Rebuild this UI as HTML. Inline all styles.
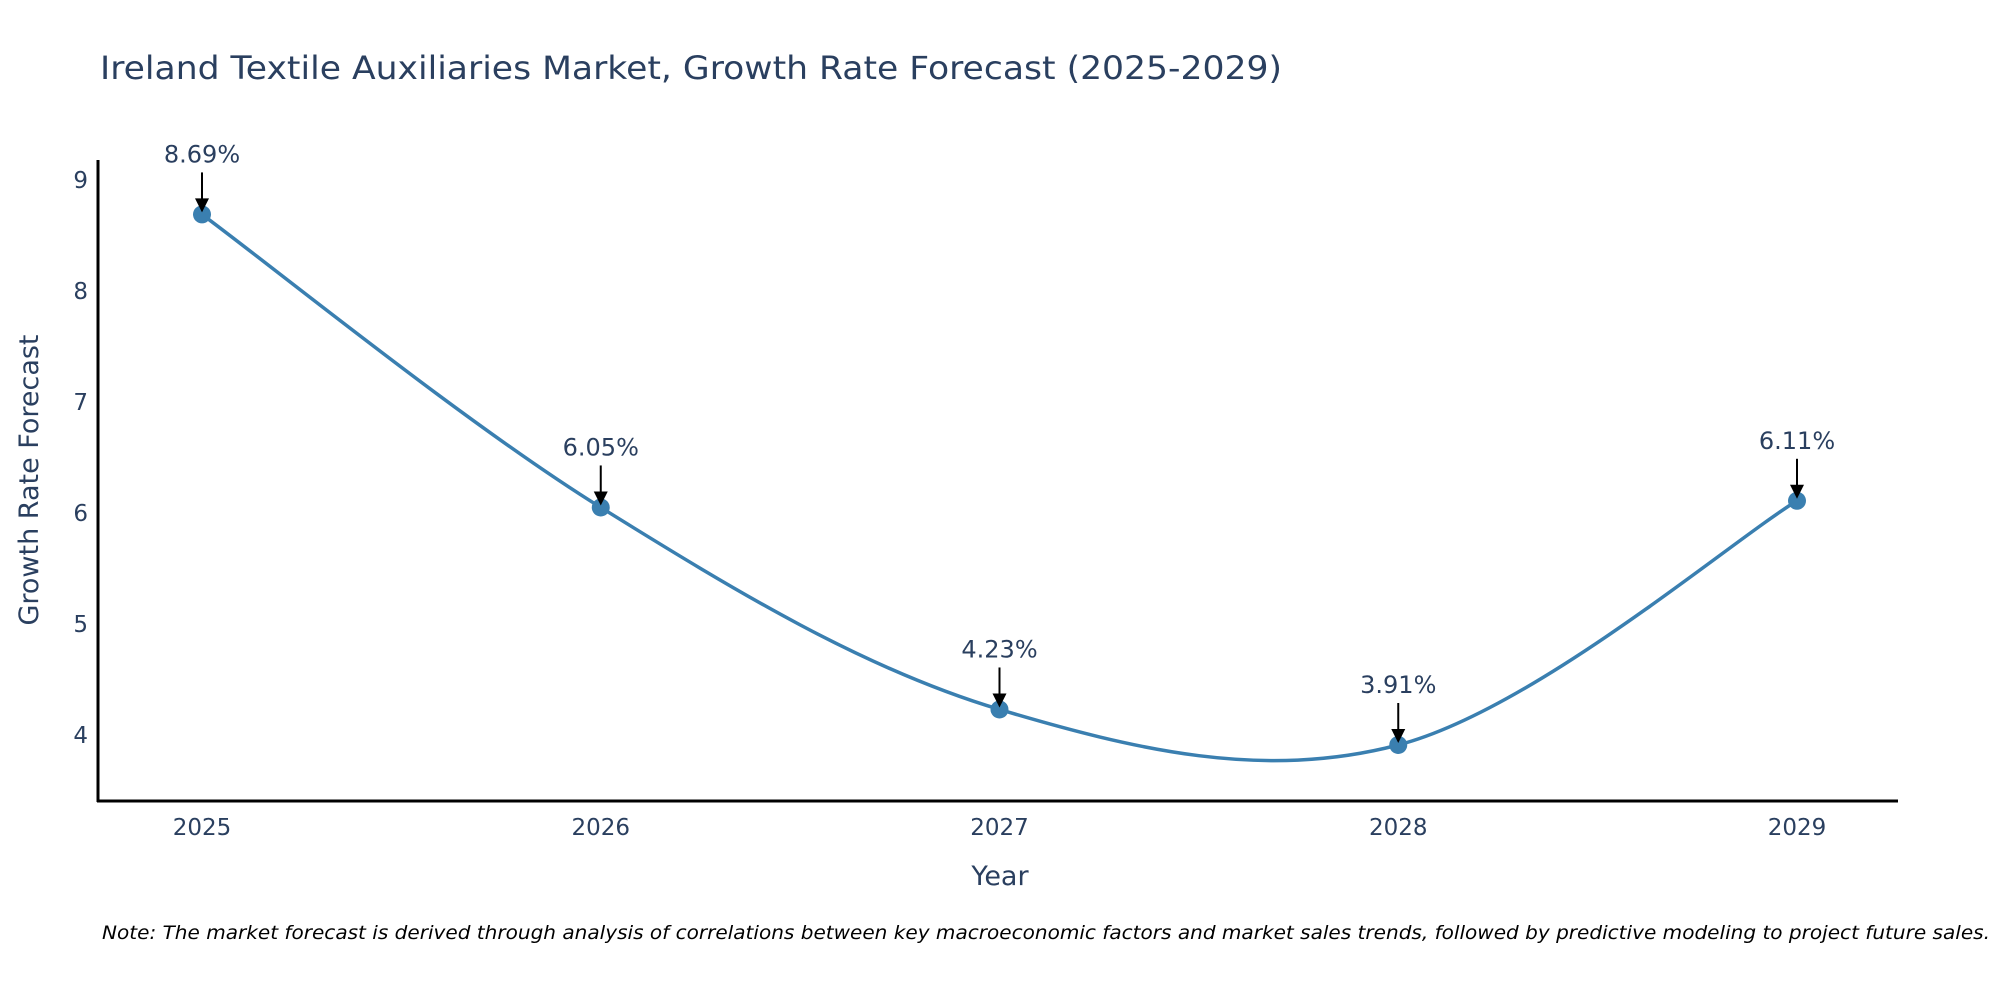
<!DOCTYPE html>
<html><head><meta charset="utf-8"><style>
body{margin:0;background:#fff;}
svg text{font-family:"DejaVu Sans","Liberation Sans",sans-serif;fill:#2a3f5f;}
</style></head><body>
<svg id="chart" width="2000" height="1000">
<text x="100" y="79" font-size="32" textLength="1182" lengthAdjust="spacingAndGlyphs">Ireland Textile Auxiliaries Market, Growth Rate Forecast (2025-2029)</text>
<g id="yticks"></g>
<g id="xticks"></g>
<path id="line" fill="none" stroke="#3a7fb0" stroke-width="3.5"/>
<g id="points"></g>
<g id="annots"></g>
<line x1="98" y1="160" x2="98" y2="802" stroke="#000" stroke-width="3"/>
<line x1="97" y1="801" x2="1898" y2="801" stroke="#000" stroke-width="3"/>
<text x="1000" y="885" font-size="27" text-anchor="middle">Year</text>
<text transform="translate(38,480) rotate(-90)" font-size="27" text-anchor="middle">Growth Rate Forecast</text>
<text x="102" y="939" font-size="19" font-style="italic" textLength="1888" lengthAdjust="spacingAndGlyphs" style="fill:#000">Note: The market forecast is derived through analysis of correlations between key macroeconomic factors and market sales trends, followed by predictive modeling to project future sales.</text>
</svg>
<script>
const years=[2025,2026,2027,2028,2029];
const values=[8.69,6.05,4.23,3.91,6.11];
const labels=["8.69%","6.05%","4.23%","3.91%","6.11%"];
const yTicks=[4,5,6,7,8,9];
const NS="http://www.w3.org/2000/svg";
const xs=y=>202+(y-2025)*(1797-202)/4;
const ys=v=>735-(v-4)*111;
function mk(t,a,p){const e=document.createElementNS(NS,t);for(const k in a)e.setAttribute(k,a[k]);p.appendChild(e);return e;}
const yt=document.getElementById('yticks');
yTicks.forEach(t=>{const e=mk('text',{x:88,y:ys(t)+8,'font-size':23,'text-anchor':'end'},yt);e.textContent=t;

});
const xt=document.getElementById('xticks');
years.forEach(y=>{const e=mk('text',{x:xs(y),y:835,'font-size':23,'text-anchor':'middle'},xt);e.textContent=y;

});
const P=years.map((y,i)=>[xs(y),ys(values[i])]);
let d=`M${P[0][0]},${P[0][1]}`;const s=0.17;
for(let i=0;i<P.length-1;i++){const p0=P[Math.max(i-1,0)],p1=P[i],p2=P[i+1],p3=P[Math.min(i+2,P.length-1)];
const c1=[p1[0]+(p2[0]-p0[0])*s,p1[1]+(p2[1]-p0[1])*s],c2=[p2[0]-(p3[0]-p1[0])*s,p2[1]-(p3[1]-p1[1])*s];
d+=` C${c1[0]},${c1[1]} ${c2[0]},${c2[1]} ${p2[0]},${p2[1]}`;}
document.getElementById('line').setAttribute('d',d);
const pg=document.getElementById('points'),ag=document.getElementById('annots');
P.forEach((p,i)=>{const c=mk('circle',{cx:p[0],cy:p[1],r:9,fill:'#3a7fb0'},pg);


const g=mk('g',{},ag);


mk('line',{x1:p[0],y1:p[1]-42,x2:p[0],y2:p[1]-14,stroke:'#000','stroke-width':2},g);
mk('polygon',{points:`${p[0]-7},${p[1]-16} ${p[0]+7},${p[1]-16} ${p[0]},${p[1]-2}`,fill:'#000'},g);
const t=mk('text',{x:p[0],y:p[1]-52,'font-size':24,'text-anchor':'middle'},g);t.textContent=labels[i];});
</script>
</body></html>
